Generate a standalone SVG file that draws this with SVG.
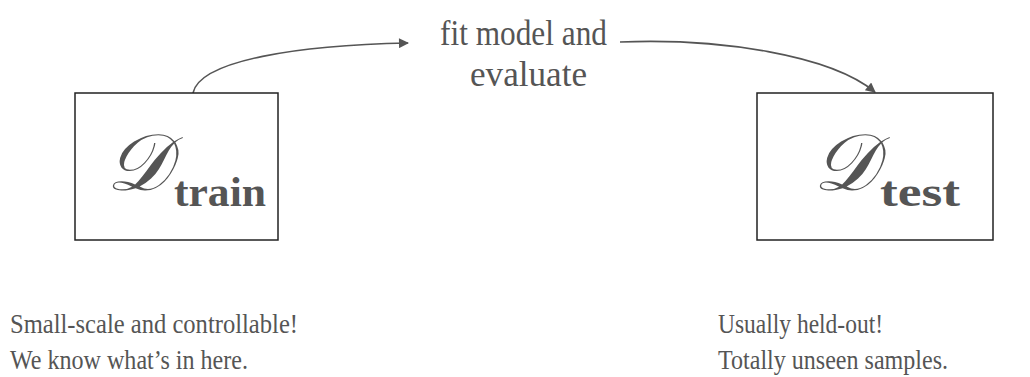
<svg xmlns="http://www.w3.org/2000/svg" width="1030" height="377" viewBox="0 0 1030 377">
  <style>
    .box { fill: #ffffff; stroke: #222222; stroke-width: 1.5; }
    .lbl { font-family: "Liberation Serif", "DejaVu Serif", serif; fill: #555555; }
    .big { font-size: 35px; }
    .note { font-size: 28px; }
    .scr { font-family: "DejaVu Serif", "Liberation Serif", serif; font-style: italic; font-size: 80px; fill: #555555; }
    .sub { font-family: "Liberation Serif", serif; font-weight: bold; font-size: 42px; fill: #555555; }
    .edge { fill: none; stroke: #555555; stroke-width: 1.6; }
  </style>
  <defs>
    <marker id="arr" viewBox="0 0 10 10" refX="9" refY="5" markerWidth="13" markerHeight="10" orient="auto" markerUnits="userSpaceOnUse">
      <path d="M0,0 L10,5 L0,10 z" fill="#555555"/>
    </marker>
  </defs>
  <rect width="1030" height="377" fill="#ffffff"/>

  <!-- curved connectors -->
  <g id="connectors">
    <path class="edge" d="M193,93 C200,60 300,45 408,43" marker-end="url(#arr)"/>
    <path class="edge" d="M620,42 C720,38 830,55 875,92" marker-end="url(#arr)"/>
  </g>

  <g id="train">
    <rect class="box" x="75" y="93" width="203" height="147"/>
    <text class="scr" x="106" y="190">𝒟</text>
    <text class="sub" x="174" y="206" textLength="92" lengthAdjust="spacingAndGlyphs">train</text>
  </g>

  <g id="test">
    <rect class="box" x="757" y="93" width="236" height="147"/>
    <text class="scr" x="813" y="190">𝒟</text>
    <text class="sub" x="880" y="206" textLength="80" lengthAdjust="spacingAndGlyphs">test</text>
  </g>

  <g id="fit">
    <text class="lbl big" x="440" y="45" textLength="167" lengthAdjust="spacingAndGlyphs">fit model and</text>
    <text class="lbl big" x="470" y="86" textLength="117" lengthAdjust="spacingAndGlyphs">evaluate</text>
  </g>

  <g id="notes">
    <text class="lbl note" x="10" y="333" textLength="288" lengthAdjust="spacingAndGlyphs">Small-scale and controllable!</text>
    <text class="lbl note" x="10" y="369" textLength="238" lengthAdjust="spacingAndGlyphs">We know what’s in here.</text>
    <text class="lbl note" x="718" y="333" textLength="165" lengthAdjust="spacingAndGlyphs">Usually held-out!</text>
    <text class="lbl note" x="718" y="369" textLength="230" lengthAdjust="spacingAndGlyphs">Totally unseen samples.</text>
  </g>
</svg>
